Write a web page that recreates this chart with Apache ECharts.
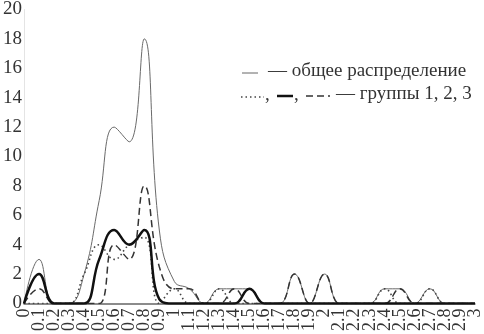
<!DOCTYPE html>
<html>
<head>
<meta charset="utf-8">
<script src="https://cdn.jsdelivr.net/npm/echarts@6/dist/echarts.min.js"></script>
<style>
html,body{margin:0;padding:0;background:#fff;}
#chart{width:484px;height:334px;}
</style>
</head>
<body>
<div id="chart"></div>
<script>
var categories = ["0","0.1","0.2","0.3","0.4","0.5","0.6","0.7","0.8","0.9",
  "1","1.1","1.2","1.3","1.4","1.5","1.6","1.7","1.8","1.9",
  "2","2.1","2.2","2.3","2.4","2.5","2.6","2.7","2.8","2.9","3"];
var totalValues  = [0,3,0,0,2,7,12,11,18,5, 1.5,1,0,1,1,1,0,0,2,0, 2,0,0,0,1,1,0,1,0,0,0];
var group1Values = [0,0,0,0,2,4,3,4,4.5,0, 1,0,0,1,0,0,0,0,0,0, 0,0,0,0,1,0,0,1,0,0,0];
var group2Values = [0,2,0,0,0,3,5,4,5,0.3, 0,0,0,0,0,1,0,0,0,0, 0,0,0,0,0,0,0,0,0,0,0];
var group3Values = [0,1,0,0,0,0,4,3,8,2.5, 1,1,0,0,1,0,0,0,2,0, 2,0,0,0,0,1,0,0,0,0,0];
var yTicks = {min:0, max:20, interval:2};
var legendLine1 = "— общее распределение";
var legendLine2 = "— группы 1, 2, 3";

var FONT = "'Liberation Serif', 'DejaVu Serif', serif";
var chart = echarts.init(document.getElementById('chart'), null, {renderer:'canvas'});
var smoothVal = 0.45;
chart.setOption({
  animation:false,
  backgroundColor:'#fff',
  grid:{left:23, right:7, top:7, bottom:30, containLabel:false},
  xAxis:{
    type:'category', data:categories, boundaryGap:false,
    axisLine:{lineStyle:{color:'#666', width:1.5}},
    axisTick:{show:false},
    axisLabel:{rotate:90, interval:0, fontFamily:FONT, fontSize:18, color:'#333', margin:5}
  },
  yAxis:{
    type:'value', min:yTicks.min, max:yTicks.max, interval:yTicks.interval,
    axisLine:{show:true, lineStyle:{color:'#e4e4e4', width:1}},
    axisTick:{show:false},
    splitLine:{show:false},
    axisLabel:{fontFamily:FONT, fontSize:19, color:'#333', margin:2}
  },
  series:[
    {name:'total', type:'line', data:totalValues, smooth:smoothVal, symbol:'none',
     lineStyle:{color:'#6a6a6a', width:1}, z:2},
    {name:'g1', type:'line', data:group1Values, smooth:smoothVal, symbol:'none',
     lineStyle:{color:'#444', width:1.6, type:[1.5,3]}, z:3},
    {name:'g3', type:'line', data:group3Values, smooth:smoothVal, symbol:'none',
     lineStyle:{color:'#333', width:1.5, type:[7,4]}, z:4},
    {name:'g2', type:'line', data:group2Values, smooth:smoothVal, symbol:'none',
     lineStyle:{color:'#111', width:2.5}, z:5}
  ],
  graphic:[
    {type:'line', shape:{x1:242,y1:73,x2:258,y2:73}, style:{stroke:'#666', lineWidth:1}},
    {type:'text', left:268, top:62, style:{text:legendLine1, font:'19px "Liberation Serif"', fill:'#333'}},
    {type:'line', shape:{x1:241,y1:97,x2:264,y2:97}, style:{stroke:'#444', lineWidth:1.6, lineDash:[1.5,3]}},
    {type:'text', left:265, top:86, style:{text:',', font:'19px "Liberation Serif"', fill:'#333'}},
    {type:'line', shape:{x1:277,y1:96,x2:293,y2:96}, style:{stroke:'#111', lineWidth:2.5}},
    {type:'text', left:294, top:86, style:{text:',', font:'19px "Liberation Serif"', fill:'#333'}},
    {type:'line', shape:{x1:306,y1:96,x2:330,y2:96}, style:{stroke:'#333', lineWidth:1.5, lineDash:[7,4]}},
    {type:'text', left:336, top:85, style:{text:legendLine2, font:'19px "Liberation Serif"', fill:'#333'}}
  ]
});
</script>
</body>
</html>
